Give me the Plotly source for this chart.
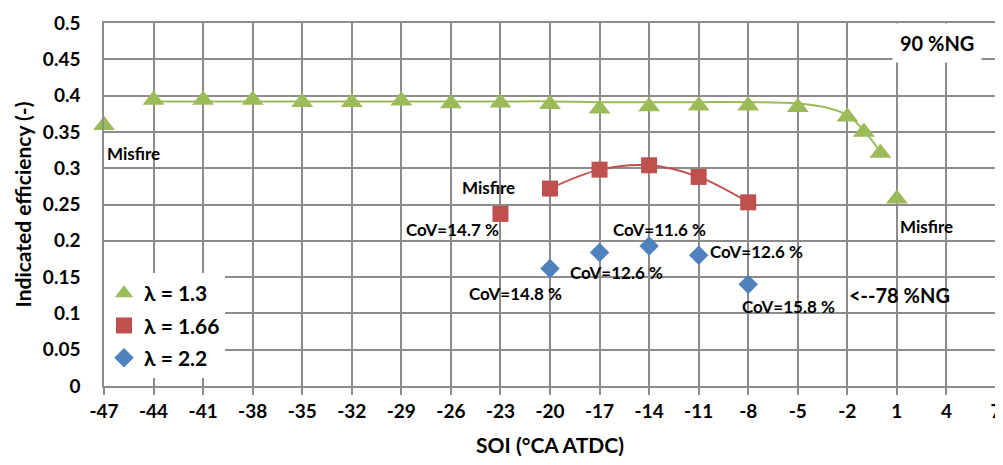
import plotly.graph_objects as go

# ---- data ----
soi_green = [-47, -44, -41, -38, -35, -32, -29, -26, -23, -20, -17, -14, -11, -8, -5, -2, -1, 0, 1]
eff_green = [0.359, 0.394, 0.394, 0.394, 0.391, 0.391, 0.393, 0.389, 0.390, 0.388, 0.382, 0.385,
             0.386, 0.386, 0.384, 0.371, 0.350, 0.321, 0.258]
# smooth curve drawn through the stable-combustion points
curve_green_x = [-44, -41, -38, -35, -32, -29, -26, -23, -20, -17, -14, -11, -8, -5, -3, -2, -1, 0]
curve_green_y = [0.392, 0.392, 0.392, 0.392, 0.392, 0.392, 0.392, 0.392, 0.392, 0.391, 0.391, 0.391,
                 0.391, 0.389, 0.382, 0.373, 0.352, 0.322]

soi_red = [-23, -20, -17, -14, -11, -8]
eff_red = [0.237, 0.272, 0.298, 0.304, 0.288, 0.253]
curve_red_x = [-20, -17, -14, -11, -8]
curve_red_y = [0.272, 0.298, 0.304, 0.288, 0.253]

soi_blue = [-20, -17, -14, -11, -8]
eff_blue = [0.162, 0.184, 0.193, 0.180, 0.140]

x_ticks = list(range(-47, 8, 3))
y_ticks = [0, 0.05, 0.1, 0.15, 0.2, 0.25, 0.3, 0.35, 0.4, 0.45, 0.5]
y_tick_text = ["0", "0.05", "0.1", "0.15", "0.2", "0.25", "0.3", "0.35", "0.4", "0.45", "0.5"]

labels = [
    ("Misfire", -45.2, 0.320, 17),
    ("Misfire", -23.7, 0.273, 17),
    ("CoV=14.7 %", -25.9, 0.215, 17),
    ("CoV=11.6 %", -13.4, 0.216, 17),
    ("CoV=12.6 %", -7.5, 0.185, 17),
    ("CoV=12.6 %", -15.95, 0.156, 17),
    ("CoV=14.8 %", -22.06, 0.127, 17),
    ("CoV=15.8 %", -5.54, 0.110, 17),
    ("Misfire", 2.82, 0.220, 17),
    ("<--78 %NG", 1.18, 0.125, 20),
]

GREEN = "#9BBB59"
RED = "#C0504D"
BLUE = "#4F81BD"
GRID = "#8C8C8C"
FONT = "Lato"

fig = go.Figure()

fig.add_trace(go.Scatter(x=curve_green_x, y=curve_green_y, mode="lines",
                         line=dict(color=GREEN, width=2, shape="spline", smoothing=1.0),
                         showlegend=False, hoverinfo="skip"))
fig.add_trace(go.Scatter(x=curve_red_x, y=curve_red_y, mode="lines",
                         line=dict(color=RED, width=2, shape="spline", smoothing=1.0),
                         showlegend=False, hoverinfo="skip"))

fig.add_trace(go.Scatter(x=soi_green, y=eff_green, mode="markers", name="<b>λ = 1.3</b>",
                         legendgroup="a", cliponaxis=False,
                         marker=dict(symbol="triangle-up", size=19, color=GREEN)))
fig.add_trace(go.Scatter(x=soi_red, y=eff_red, mode="markers", name="<b>λ = 1.66</b>",
                         legendgroup="b", cliponaxis=False,
                         marker=dict(symbol="square", size=16, color=RED)))
fig.add_trace(go.Scatter(x=soi_blue, y=eff_blue, mode="markers", name="<b>λ = 2.2</b>",
                         legendgroup="c", cliponaxis=False,
                         marker=dict(symbol="diamond", size=15, color=BLUE)))

for text, x, y, fs in labels:
    fig.add_annotation(x=x, y=y, text=f"<b>{text}</b>", showarrow=False,
                       font=dict(family=FONT, size=fs, color="black"),
                       xanchor="center", yanchor="middle")

fig.add_annotation(x=3.42, y=0.473, text="<b>90 %NG</b>", showarrow=False,
                   font=dict(family=FONT, size=20, color="black"),
                   bgcolor="white", borderpad=7, xanchor="center", yanchor="middle")

# page body adds an 8px offset; size/margins keep the page free of scrollbars and
# put the plot area at 104..996 x 23..386 in the window
fig.update_layout(
    width=995, height=449,
    margin=dict(l=96, r=7, t=15, b=71),
    paper_bgcolor="white", plot_bgcolor="white",
    font=dict(family=FONT, color="black"),
    legend=dict(x=0, y=0.022, xanchor="left", yanchor="bottom",
                bgcolor="white", borderwidth=0,
                font=dict(family=FONT, size=21, color="black"),
                tracegroupgap=2, traceorder="grouped",
                itemwidth=30),
)

fig.update_xaxes(range=[-47, 7], tickvals=x_ticks, ticktext=[f"<b>{v}</b>" for v in x_ticks],
                 automargin=False, ticklabeloverflow="allow",
                 showgrid=True, gridcolor=GRID, gridwidth=1.5,
                 showline=True, linecolor=GRID, linewidth=1.5, mirror=True,
                 ticks="outside", ticklen=7, tickcolor=GRID, tickwidth=1.5,
                 tickfont=dict(family=FONT, size=19, color="black"),
                 zeroline=False,
                 title=dict(text="<b>SOI (°CA ATDC)</b>", font=dict(family=FONT, size=21, color="black"),
                            standoff=30))
fig.update_yaxes(range=[0, 0.5], tickvals=y_ticks, ticktext=[f"<b>{t}</b>" for t in y_tick_text],
                 automargin=False,
                 showgrid=True, gridcolor=GRID, gridwidth=1.5,
                 showline=True, linecolor=GRID, linewidth=1.5, mirror=True,
                 ticks="", ticklabelstandoff=18,
                 tickfont=dict(family=FONT, size=19, color="black"),
                 zeroline=False,
                 title=dict(text="<b>Indicated efficiency (-)</b>", font=dict(family=FONT, size=21, color="black"),
                            standoff=6))

fig.write_html("out.html")
